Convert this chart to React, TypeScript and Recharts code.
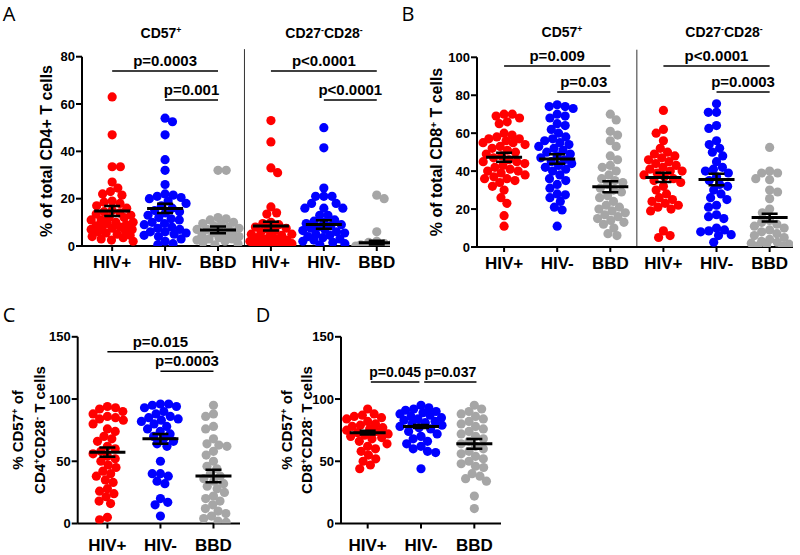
import React from "react";
import { ReferenceLine, Scatter, ScatterChart, XAxis, YAxis } from "recharts";

// group names along every x axis
const groups = ["HIV+", "HIV-", "BBD"];

// Panel A: % of total CD4+ T cells (CD57+ | CD27-CD28-)
const aCd57HivPos = [63, 47, 33.5, 33.5, 27, 24.5, 23, 22, 21.5, 19, 18.5, 18, 17, 16, 15, 14.5, 14, 13.5, 13, 12, 12, 11, 11, 10, 10, 9.5, 9, 8.5, 8, 8, 7.5, 7, 7, 6.5, 6, 5.5, 5, 4.5, 4, 3.5, 3, 2.5, 2];
const aCd57HivNeg = [54, 52.5, 47, 36.5, 32, 26, 22, 21.5, 21, 20.5, 20, 19, 18, 17, 16, 15, 14.5, 14, 13, 12, 11.5, 11, 10, 9.5, 9, 8, 7.5, 7, 6, 6, 5.5, 5, 4.5, 4, 3, 2, 1, 0.5];
const aCd57Bbd = [32, 32, 12, 11.5, 11, 10, 9.5, 9, 8.5, 8, 7.5, 7, 7, 6.5, 6, 5.5, 5, 4.5, 4, 3.5, 3, 3, 2.5, 2, 1.5, 1, 0.5];
const aDnHivPos = [53, 44, 33, 31, 16.5, 14, 13.5, 10, 9.5, 9, 8, 7.5, 7, 6.5, 6, 5, 5, 4.5, 4, 3.5, 3, 3, 2.5, 2, 2, 1.5, 1, 1, 0.5, 0.5, 0, 0, 0];
const aDnHivNeg = [50, 41.5, 24.5, 21, 21, 21, 18, 18, 16, 16, 16, 13, 13, 11, 10.5, 10, 9.5, 9, 8.5, 8, 7.5, 7, 6.5, 6, 5.5, 5, 4.5, 4, 3.5, 3, 2.5, 2, 1.5, 1, 0.5];
const aDnBbd = [21.5, 20, 6, 2, 1.5, 1, 1, 0.5, 0.5, 0, 0, 0, 0, 0];
const aMeans = [14.8, 15.9, 6.8, 8.4, 9.1, 1.4];
const aSems = [2.1, 2, 1.4, 1.8, 1.8, 0.8];

// Panel B: % of total CD8+ T cells
const bCd57HivPos = [70, 70, 69, 68, 66, 65, 60, 59, 58, 57, 57, 56, 55, 55, 54, 53, 52, 51, 50, 49, 48, 47, 46, 45, 45, 44, 43, 42, 41, 40, 40, 39, 38, 37, 36, 36, 35, 34, 32, 30, 26, 23, 16.5, 11];
const bCd57HivNeg = [75, 74, 74, 73, 70, 69, 68, 65, 64, 62, 60, 58, 57, 56, 55, 54, 53, 52, 51, 50, 49, 48, 47, 46, 45, 44, 43, 42, 41, 40, 38, 36, 35, 33, 31, 28, 27.5, 26, 24, 21, 19.5, 11];
const bCd57Bbd = [70, 67, 61, 59, 56, 53, 48, 46, 43, 42, 40, 38, 36, 35, 34, 33, 31, 30, 29, 27, 26, 24, 22, 21, 20, 19, 18, 17, 16, 15, 14, 13, 12, 10, 7, 6];
const bDnHivPos = [72, 62, 60, 56, 52, 50, 49, 48, 47, 46, 45, 44, 43, 42, 41, 40, 40, 39, 38, 37, 36, 35, 34, 32, 30, 28, 26, 25, 24, 23, 22, 21, 20, 19, 8.5, 6, 5];
const bDnHivNeg = [75.5, 71, 71, 64, 62.5, 56, 54, 52, 50, 48, 45, 42, 41, 40, 39, 37, 35, 33, 32, 30, 28, 26, 25, 22, 21, 17, 16, 15, 10, 9, 8.5, 8, 6.5, 6, 2.5];
const bDnBbd = [52.5, 40, 39, 39, 36, 35.5, 30, 29, 25.5, 20, 18, 14, 13, 12, 11, 10, 9, 8, 7, 6, 5, 4, 3, 2.5, 2, 1.5, 1, 0.5, 0.5];
const bMeans = [47.3, 46.4, 31.8, 36.7, 35.6, 15.5];
const bSems = [2.4, 2.5, 2.9, 2.4, 3, 2];

// Panel C: % CD57+ of CD4+CD28- T cells
const cHivPos = [94, 93, 92, 90, 88, 86, 85, 84, 83, 80, 76, 74, 70, 68, 66, 62, 60, 58, 56, 54, 52, 50, 47, 45, 42, 40, 38, 35, 33, 28, 26, 24, 21.5, 18, 16, 5, 3];
const cHivNeg = [96, 96, 95, 94, 93, 90, 88, 86, 85, 84, 83, 82, 80, 78, 76, 74, 72, 70, 68, 66, 64, 62, 50, 40, 40, 38, 34, 32, 20, 17, 15, 6];
const cBbd = [95, 88, 86, 78, 76, 68, 64, 63, 62, 58, 55, 50, 46, 44, 40, 38, 36, 34, 32, 30, 28, 25, 22, 20, 18, 15, 12, 10, 8, 6, 4, 2, 1];
const cMeans = [57.3, 68, 38.2];
const cSems = [3.7, 3.9, 5];

// Panel D: % CD57+ of CD8+CD28- T cells
const dHivPos = [92, 88, 87, 86, 85, 84, 82, 80, 79, 78, 77, 76, 75, 74, 73, 72, 71, 70, 69, 68, 66, 64, 62, 60, 58, 55, 52, 50, 47, 44];
const dHivNeg = [95, 93, 92, 91, 90, 89, 88, 87, 86, 85, 84, 83, 82, 81, 80, 79, 78, 77, 76, 74, 72, 70, 68, 66, 64, 62, 60, 58, 57, 44];
const dBbd = [95, 92, 90, 88, 86, 84, 82, 80, 78, 76, 74, 72, 70, 68, 66, 64, 62, 60, 58, 56, 54, 52, 50, 48, 46, 45, 40, 38, 36, 34, 22, 12];
const dMeans = [73, 77.9, 64];
const dSems = [1.5, 1.2, 3.9];

const RED = "#ff0000";
const BLUE = "#0000ff";
const GREY = "#a6a6a6";
const FONT = '"Liberation Sans", Arial, sans-serif';

type Bracket = { x1: number; x2: number; y: number; text: string };

type PanelCfg = {
  box: { left: number; top: number; width: number; height: number };
  plot: { left: number; top: number; right: number; bottom: number };
  xDomain: [number, number];
  yDomain: [number, number];
  yTicks: number[];
  series: number[][];
  colors: string[];
  means: number[];
  sems: number[];
  brackets: Bracket[];
  divider?: number;
  labelGap: number;
  pSize: number;
};

// simple beeswarm: spread dots sideways so they don't pile on top of each other
function swarm(values: number[], pxPerVal: number, diam: number, maxHalf: number) {
  const order = values.map((v, i) => ({ v, i })).sort((a, b) => b.v - a.v);
  const placed: { x: number; y: number }[] = [];
  const out: { v: number; dx: number }[] = [];
  let flip = 1;
  for (const p of order) {
    const y = p.v * pxPerVal;
    const iv: [number, number][] = [];
    for (const q of placed) {
      const dy = Math.abs(q.y - y);
      if (dy < diam) {
        const dx = Math.sqrt(diam * diam - dy * dy);
        iv.push([q.x - dx, q.x + dx]);
      }
    }
    const cands = [0];
    iv.forEach(([a, b]) => cands.push(a, b));
    cands.sort((a, b) => Math.abs(a) - Math.abs(b) || (a - b) * flip);
    let best: number | null = null;
    for (const c of cands) {
      if (Math.abs(c) > maxHalf) continue;
      if (iv.every(([a, b]) => c <= a + 1e-6 || c >= b - 1e-6)) {
        best = c;
        break;
      }
    }
    if (best === null) {
      // no free slot left: take the least crowded spot
      let bestScore = -1;
      for (let c = -maxHalf; c <= maxHalf; c += 1) {
        let m = Infinity;
        for (const q of placed) m = Math.min(m, Math.hypot(q.x - c, q.y - y));
        if (m > bestScore) {
          bestScore = m;
          best = c;
        }
      }
    }
    flip = -flip;
    placed.push({ x: best as number, y });
    out.push({ v: p.v, dx: best as number });
  }
  return out;
}

const dotShape = (color: string) => (props: any) =>
  props.cx == null ? <g /> : <circle cx={props.cx} cy={props.cy} r={4.6} fill={color} />;

const hLine = (half: number, w: number) => (props: any) =>
  props.cx == null ? <g /> : (
    <line x1={props.cx - half} x2={props.cx + half} y1={props.cy} y2={props.cy} stroke="#000" strokeWidth={w} />
  );

const meanShape = hLine(18, 3);
const capShape = hLine(8, 2.5);

const Panel: React.FC<{ cfg: PanelCfg }> = ({ cfg }) => {
  const { box, plot } = cfg;
  const xh = 28;
  const plotW = plot.right - plot.left;
  const plotH = plot.bottom - plot.top;
  const pxPerCat = plotW / (cfg.xDomain[1] - cfg.xDomain[0]);
  const pxPerVal = plotH / (cfg.yDomain[1] - cfg.yDomain[0]);
  const cats = cfg.series.map((_, i) => i + 1);

  const dots = cfg.series.map((vals, i) =>
    swarm(vals, pxPerVal, 8.2, 21).map((d) => ({ x: i + 1 + d.dx / pxPerCat, y: d.v }))
  );
  const meanData = cfg.means.map((m, i) => ({ x: i + 1, y: m }));
  const semData = cfg.means.map((m, i) => [
    { x: i + 1, y: m - cfg.sems[i] },
    { x: i + 1, y: m + cfg.sems[i] },
  ]);

  return (
    <div style={{ position: "absolute", left: box.left, top: box.top }}>
      <ScatterChart
        width={box.width}
        height={box.height}
        margin={{
          top: plot.top - box.top,
          left: 0,
          right: box.left + box.width - plot.right,
          bottom: box.top + box.height - plot.bottom - xh,
        }}
      >
        <XAxis
          type="number"
          dataKey="x"
          domain={cfg.xDomain}
          ticks={cats}
          interval={0}
          allowDataOverflow
          height={xh}
          tickFormatter={(v: number) => groups[(v - 1) % 3]}
          axisLine={{ stroke: "#000", strokeWidth: 2 }}
          tickLine={{ stroke: "#000", strokeWidth: 2 }}
          tickSize={5}
          tickMargin={cfg.labelGap}
          tick={{ fill: "#000", fontSize: 17, fontWeight: "bold", fontFamily: FONT }}
        />
        <YAxis
          type="number"
          dataKey="y"
          domain={cfg.yDomain}
          ticks={cfg.yTicks}
          interval={0}
          allowDataOverflow
          width={plot.left - box.left}
          axisLine={{ stroke: "#000", strokeWidth: 2 }}
          tickLine={{ stroke: "#000", strokeWidth: 2 }}
          tickSize={6}
          tickMargin={1}
          tick={{ fill: "#000", fontSize: 13, fontWeight: "bold", fontFamily: FONT }}
        />
        {cfg.divider != null && (
          <ReferenceLine
            segment={[
              { x: cfg.divider, y: 0 },
              { x: cfg.divider, y: cfg.yDomain[1] * 1.04 },
            ]}
            stroke="#333"
            strokeWidth={1}
            ifOverflow="visible"
          />
        )}
        {dots.map((d, i) => (
          <Scatter key={i} data={d} shape={dotShape(cfg.colors[i % 3])} isAnimationActive={false} />
        ))}
        {semData.map((d, i) => (
          <Scatter
            key={"sem" + i}
            data={d}
            line={{ stroke: "#000", strokeWidth: 2.5 }}
            lineType="joint"
            shape={capShape}
            isAnimationActive={false}
          />
        ))}
        <Scatter data={meanData} shape={meanShape} isAnimationActive={false} />
        {cfg.brackets.map((b, i) => (
          <ReferenceLine
            key={"b" + i}
            segment={[
              { x: b.x1, y: b.y },
              { x: b.x2, y: b.y },
            ]}
            stroke="#000"
            strokeWidth={1.5}
            ifOverflow="visible"
            label={{
              value: b.text,
              position: "top",
              offset: 5,
              fill: "#000",
              fontSize: cfg.pSize,
              fontWeight: "bold",
              fontFamily: FONT,
            }}
          />
        ))}
      </ScatterChart>
    </div>
  );
};

const panelA: PanelCfg = {
  box: { left: 30, top: 0, width: 370, height: 275 },
  plot: { left: 82, top: 56.7, right: 390, bottom: 246 },
  xDomain: [0.43, 6.25],
  yDomain: [0, 80],
  yTicks: [0, 20, 40, 60, 80],
  series: [aCd57HivPos, aCd57HivNeg, aCd57Bbd, aDnHivPos, aDnHivNeg, aDnBbd],
  colors: [RED, BLUE, GREY],
  means: aMeans,
  sems: aSems,
  brackets: [
    { x1: 1, x2: 3, y: 74, text: "p=0.0003" },
    { x1: 2, x2: 3, y: 61.7, text: "p=0.001" },
    { x1: 4, x2: 6, y: 74, text: "p<0.0001" },
    { x1: 5, x2: 6, y: 61.7, text: "p<0.0001" },
  ],
  divider: 3.5,
  labelGap: 5,
  pSize: 15,
};

const panelB: PanelCfg = {
  box: { left: 440, top: 0, width: 358, height: 275 },
  plot: { left: 477, top: 57.3, right: 793, bottom: 247 },
  xDomain: [0.49, 6.44],
  yDomain: [0, 100],
  yTicks: [0, 20, 40, 60, 80, 100],
  series: [bCd57HivPos, bCd57HivNeg, bCd57Bbd, bDnHivPos, bDnHivNeg, bDnBbd],
  colors: [RED, BLUE, GREY],
  means: bMeans,
  sems: bSems,
  brackets: [
    { x1: 1, x2: 3, y: 95.4, text: "p=0.009" },
    { x1: 2, x2: 3, y: 81.7, text: "p=0.03" },
    { x1: 4, x2: 6, y: 95.4, text: "p<0.0001" },
    { x1: 5, x2: 6, y: 81.7, text: "p=0.0003" },
  ],
  divider: 3.5,
  labelGap: 5,
  pSize: 15,
};

const panelC: PanelCfg = {
  box: { left: 45, top: 300, width: 205, height: 255 },
  plot: { left: 77.7, top: 336.8, right: 240, bottom: 523.5 },
  xDomain: [0.44, 3.5],
  yDomain: [0, 150],
  yTicks: [0, 50, 100, 150],
  series: [cHivPos, cHivNeg, cBbd],
  colors: [RED, BLUE, GREY],
  means: cMeans,
  sems: cSems,
  brackets: [
    { x1: 1, x2: 3, y: 138, text: "p=0.015" },
    { x1: 2, x2: 3, y: 122.3, text: "p=0.0003" },
  ],
  labelGap: 10,
  pSize: 15,
};

const panelD: PanelCfg = {
  box: { left: 310, top: 300, width: 200, height: 255 },
  plot: { left: 341, top: 336.8, right: 501, bottom: 523.5 },
  xDomain: [0.5, 3.5],
  yDomain: [0, 150],
  yTicks: [0, 50, 100, 150],
  series: [dHivPos, dHivNeg, dBbd],
  colors: [RED, BLUE, GREY],
  means: dMeans,
  sems: dSems,
  brackets: [
    { x1: 1.06, x2: 1.97, y: 113.6, text: "p=0.045" },
    { x1: 2.06, x2: 3.04, y: 113.6, text: "p=0.037" },
  ],
  labelGap: 10,
  pSize: 14,
};

const Sup: React.FC<{ c: string }> = ({ c }) => (
  <span style={{ fontSize: "0.62em", position: "relative", top: "-0.55em" }}>{c}</span>
);

const Txt: React.FC<{ x: number; y: number; size: number; rotate?: boolean; bold?: boolean; family?: string; children: React.ReactNode }> = ({
  x,
  y,
  size,
  rotate,
  bold = true,
  family = FONT,
  children,
}) => (
  <div
    style={{
      position: "absolute",
      left: x,
      top: y,
      transform: `translate(-50%, -50%)${rotate ? " rotate(-90deg)" : ""}`,
      whiteSpace: "nowrap",
      fontSize: size,
      fontWeight: bold ? "bold" : "normal",
      fontFamily: family,
      lineHeight: 1.2,
      color: "#000",
    }}
  >
    {children}
  </div>
);

const LETTER_FONT = '"Open Sans", "DejaVu Sans", sans-serif';

export default function App() {
  return (
    <div style={{ position: "absolute", left: 0, top: 0, width: 800, height: 555, background: "#fff", overflow: "hidden" }}>
      <Panel cfg={panelA} />
      <Panel cfg={panelB} />
      <Panel cfg={panelC} />
      <Panel cfg={panelD} />

      <Txt x={9} y={14} size={20} bold={false} family={LETTER_FONT}>A</Txt>
      <Txt x={408} y={14} size={20} bold={false} family={LETTER_FONT}>B</Txt>
      <Txt x={9} y={315} size={20} bold={false} family={LETTER_FONT}>C</Txt>
      <Txt x={263} y={315} size={20} bold={false} family={LETTER_FONT}>D</Txt>

      <Txt x={161} y={33} size={14}>CD57<Sup c="+" /></Txt>
      <Txt x={324} y={33} size={14}>CD27<Sup c="-" />CD28<Sup c="-" /></Txt>
      <Txt x={562} y={32} size={14}>CD57<Sup c="+" /></Txt>
      <Txt x={724} y={32} size={14}>CD27<Sup c="-" />CD28<Sup c="-" /></Txt>

      <Txt x={47} y={151} size={16} rotate>% of total CD4+ T cells</Txt>
      <Txt x={437} y={152} size={16} rotate>% of total CD8<Sup c="+" /> T cells</Txt>
      <Txt x={18} y={430} size={15} rotate>% CD57<Sup c="+" /> of</Txt>
      <Txt x={40} y={430} size={15} rotate>CD4<Sup c="+" />CD28<Sup c="-" /> T cells</Txt>
      <Txt x={287} y={430} size={15} rotate>% CD57<Sup c="+" /> of</Txt>
      <Txt x={307} y={430} size={15} rotate>CD8<Sup c="+" />CD28<Sup c="-" /> T cells</Txt>
    </div>
  );
}
